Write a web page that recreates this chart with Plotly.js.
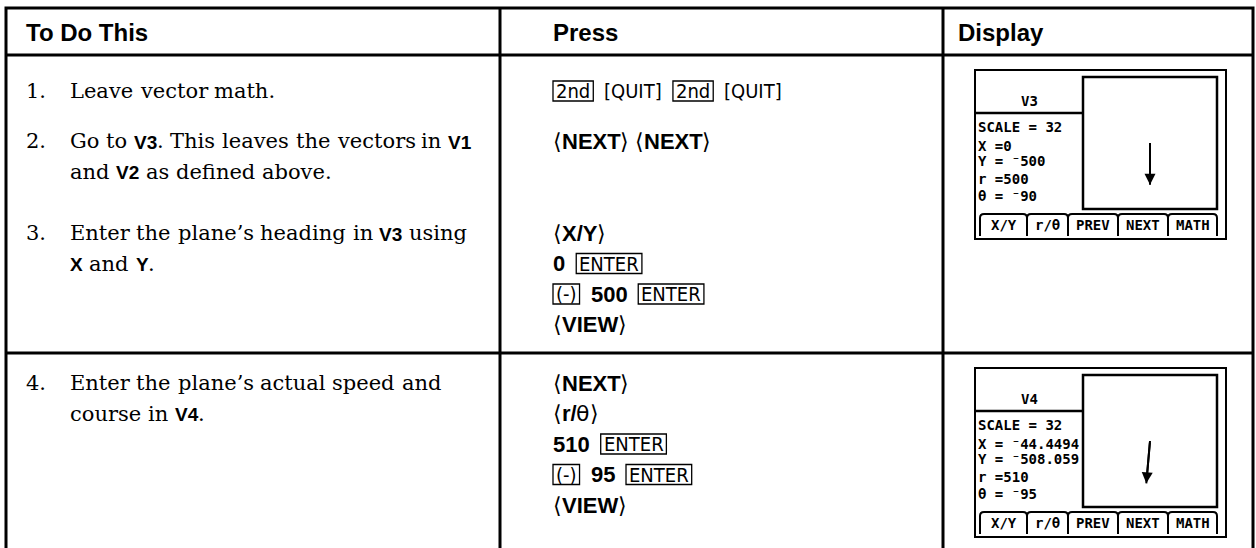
<!DOCTYPE html>
<html><head><meta charset="utf-8">
<script src="https://cdn.plot.ly/plotly-3.0.1.min.js"></script>
<style>html,body{margin:0;padding:0;background:#fff}#chart{width:1256px;height:548px}</style>
</head><body><div id="chart"></div>
<script>
// ---- content ----
const headers = ['To Do This', 'Press', 'Display'];
const stepNumbers = ['1.', '2.', '3.', '4.'];
const stepLines = [
  ['Leave vector math.'],
  ['Go to *V3*. This leaves the vectors in *V1*', 'and *V2* as defined above.'],
  ['Enter the plane\u2019s heading in *V3* using', '*X* and *Y*.'],
  ['Enter the plane\u2019s actual speed and', 'course in *V4*.']
];
const pressLines = [
  ['[2nd] {QUIT} [2nd] {QUIT}'],
  ['\u27E8NEXT\u27E9 \u27E8NEXT\u27E9'],
  ['\u27E8X/Y\u27E9', '0 [ENTER]', '[(-)] 500 [ENTER]', '\u27E8VIEW\u27E9'],
  ['\u27E8NEXT\u27E9', '\u27E8r/\u03B8\u27E9', '510 [ENTER]', '[(-)] 95 [ENTER]', '\u27E8VIEW\u27E9']
];
const screenNames = ['V3', 'V4'];
const screenScale = [32, 32];
const vectorX = [0, -44.4494];
const vectorY = [-500, -508.059];
const vectorR = [500, 510];
const vectorTheta = [-90, -95];
const menuLabels = ['X/Y', 'r/\u03B8', 'PREV', 'NEXT', 'MATH'];

// ---- styles ----
const SANS = "'Liberation Sans', Arial, 'DejaVu Sans', sans-serif";
const F = {
  head:  {family: SANS, size: 24, weight: 700},
  serif: {family: "'DejaVu Serif', serif", size: 21, weight: 400},
  label: {family: SANS, size: 19, weight: 700},
  press: {family: SANS, size: 22, weight: 700},
  thin:  {family: "'DejaVu Sans', sans-serif", size: 22, weight: 400},
  key:   {family: "'Liberation Sans Narrow', 'DejaVu Sans Condensed', " + SANS, size: 20, weight: 400},
  screen:{family: "'DejaVu Sans Mono', monospace", size: 14, weight: 700}
};
const ctx = document.createElement('canvas').getContext('2d');
function tw(t, f) { ctx.font = f.weight + ' ' + f.size + 'px ' + f.family; return ctx.measureText(t).width; }

const annotations = [];
const shapes = [];
function ann(x, y, text, f, anchor) {
  annotations.push({xref: 'x', yref: 'y', x: x, y: y, text: text, showarrow: false,
    xanchor: anchor || 'left', yanchor: 'middle', borderpad: 0, borderwidth: 0,
    font: {family: f.family, size: f.size, weight: f.weight, color: '#000'}});
}
function line(x0, y0, x1, y1, w) {
  shapes.push({type: 'line', xref: 'x', yref: 'y', x0: x0, y0: y0, x1: x1, y1: y1, line: {color: '#000', width: w}});
}
function rect(x0, y0, x1, y1, w) {
  shapes.push({type: 'rect', xref: 'x', yref: 'y', x0: x0, y0: y0, x1: x1, y1: y1, line: {color: '#000', width: w}});
}

// ---- table frame ----
const colX = [6, 500, 943, 1253];
const headBottom = 55, rowLine = 353, tableTop = 8, tableBottom = 600;
rect(colX[0], tableTop, colX[3], tableBottom, 3);
line(colX[0], headBottom, colX[3], headBottom, 3);
line(colX[1], tableTop, colX[1], tableBottom, 3);
line(colX[2], tableTop, colX[2], tableBottom, 3);
line(colX[0], rowLine, colX[3], rowLine, 3);

const headX = [26, 553, 958];
headers.forEach((h, i) => ann(headX[i], 32, h, F.head));

// ---- row layout (shared baselines for both text columns) ----
const rowY = [91, 141, 233, 383];
const lineGap = 30.5;

// ---- step text ----
function serifLine(str, x, y) {
  const sp = tw(' ', F.serif);
  str.split(' ').forEach(word => {
    word.split(/(\*[^*]+\*)/).filter(s => s.length).forEach(p => {
      const bold = p[0] === '*';
      const t = bold ? p.slice(1, -1) : p;
      const f = bold ? F.label : F.serif;
      ann(x, y + (bold ? 1 : 0), t, f);
      x += tw(t, f);
    });
    x += sp;
  });
}
stepLines.forEach((lines, i) => {
  ann(26, rowY[i], stepNumbers[i], F.serif);
  lines.forEach((l, j) => serifLine(l, 70, rowY[i] + j * lineGap));
});

// ---- press column ----
function pressLine(str, x, y) {
  const toks = str.split(' ');
  let prevKind = null;
  toks.forEach(tok => {
    let kind = 'bold', t = tok;
    if (/^\[.+\]$/.test(tok)) { kind = 'key'; t = tok.slice(1, -1); }
    else if (/^\{.+\}$/.test(tok)) { kind = 'br'; t = '[' + tok.slice(1, -1) + ']'; }
    if (prevKind) x += (prevKind === 'bold' && kind === 'bold') ? tw(' ', F.press) : 11;
    if (kind === 'key') {
      const w = tw(t, F.key), pad = 3;
      rect(x, y - 10, x + w + 2 * pad, y + 10, 1.3);
      ann(x + pad, y, t, F.key);
      x += w + 2 * pad;
    } else if (kind === 'br') {
      ann(x, y, t, F.key);
      x += tw(t, F.key);
    } else {
      t.split(/([\u27E8\u27E9\u03B8])/).filter(s => s.length).forEach(p => {
        const f = /[\u27E8\u27E9\u03B8]/.test(p) ? F.thin : F.press;
        ann(x, y, p, f);
        x += tw(p, f);
      });
    }
    prevKind = kind;
  });
}
pressLines.forEach((lines, i) => lines.forEach((l, j) => pressLine(l, 553, rowY[i] + j * lineGap)));

// ---- calculator screens ----
const screenTop = [70, 368];
const SL = 975, SR = 1226, SH = 169, PL = 1083, PR = 1217;
const tabEdges = [980, 1027, 1068, 1118, 1168, 1217];
function calcVal(v) { return v < 0 ? ' = \u207B' + Math.abs(v) : ' =' + Math.abs(v); }
const traces = [{x: [0], y: [0], xaxis: 'x', yaxis: 'y', mode: 'markers', marker: {opacity: 0}, hoverinfo: 'skip', showlegend: false}];
const layoutAxes = {};
const upp = 12; // units per display pixel in the screen plot
screenTop.forEach((T, i) => {
  rect(SL, T, SR, T + SH, 2);
  rect(PL, T + 7, PR, T + 139, 2.5);
  line(SL, T + 43, PL, T + 43, 2.5);
  ann((SL + PL) / 2, T + 31, screenNames[i], F.screen, 'center');
  const txt = ['SCALE = ' + screenScale[i], 'X' + calcVal(vectorX[i]), 'Y' + calcVal(vectorY[i]),
               'r' + calcVal(vectorR[i]), '\u03B8' + calcVal(vectorTheta[i])];
  const offs = [57, 76, 91, 109, 126];
  txt.forEach((t, k) => ann(978, T + offs[k], t, F.screen));
  for (let k = 0; k < menuLabels.length; k++) {
    const a = tabEdges[k], b = tabEdges[k + 1], yt = T + 144, yb = T + 166;
    shapes.push({type: 'path', xref: 'x', yref: 'y',
      path: `M${a},${yb} L${a},${yt + 4} Q${a},${yt} ${a + 4},${yt} L${b - 4},${yt} Q${b},${yt} ${b},${yt + 4} L${b},${yb}`,
      line: {color: '#000', width: 2}});
    ann((a + b) / 2, T + 155, menuLabels[k], F.screen, 'center');
  }
  const n = i + 2, xa = 'xaxis' + n, ya = 'yaxis' + n;
  const pxW = PR - PL, pxH = 132;
  layoutAxes[xa] = {domain: [PL / 1256, PR / 1256], range: [-pxW / 2 * upp, pxW / 2 * upp], visible: false, fixedrange: true, anchor: 'y' + n};
  layoutAxes[ya] = {domain: [(548 - (T + 139)) / 548, (548 - (T + 7)) / 548], range: [-pxH / 2 * upp, pxH / 2 * upp], visible: false, fixedrange: true, anchor: 'x' + n};
  traces.push({x: [0, vectorX[i]], y: [0, vectorY[i]], xaxis: 'x' + n, yaxis: 'y' + n, mode: 'lines',
    line: {color: '#000', width: 2}, hoverinfo: 'skip', showlegend: false});
  annotations.push({xref: 'x' + n, yref: 'y' + n, axref: 'x' + n, ayref: 'y' + n, x: vectorX[i], y: vectorY[i],
    ax: 0, ay: 0, text: '', showarrow: true, arrowhead: 2, arrowsize: 1.1, arrowwidth: 2, arrowcolor: '#000', standoff: 0});
});

const layout = Object.assign({
  width: 1256, height: 548, margin: {l: 0, r: 0, t: 0, b: 0},
  paper_bgcolor: '#fff', plot_bgcolor: 'rgba(0,0,0,0)', showlegend: false,
  xaxis: {range: [0, 1256], visible: false, fixedrange: true},
  yaxis: {range: [548, 0], visible: false, fixedrange: true},
  shapes: shapes, annotations: annotations
}, layoutAxes);
Plotly.newPlot('chart', traces, layout, {staticPlot: true, displayModeBar: false});
</script></body></html>
